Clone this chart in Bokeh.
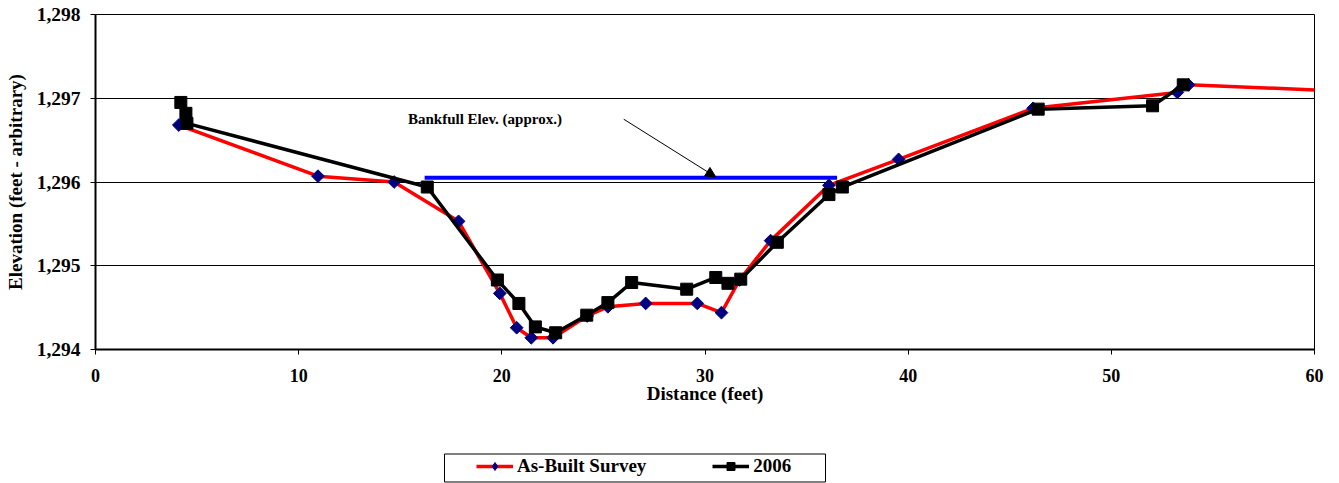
from bokeh.plotting import figure
from bokeh.layouts import column
from bokeh.models import (Range1d, FixedTicker, NumeralTickFormatter, Legend, LegendItem,
                          Arrow, NormalHead, Label, BoxAnnotation)
from bokeh.embed import file_html
from bokeh.resources import INLINE

# ---- data ----
asbuilt_x = [4.10, 10.95, 14.70, 17.87, 19.90, 20.73, 21.45, 22.52, 24.20, 25.22, 27.08,
             29.62, 30.81, 31.70, 33.23, 36.10, 39.53, 46.15, 53.25, 53.80, 61.5]
asbuilt_y = [1296.68, 1296.07, 1296.00, 1295.53, 1294.67, 1294.26, 1294.14, 1294.14, 1294.40,
             1294.51, 1294.55, 1294.55, 1294.44, 1294.83, 1295.30, 1295.96, 1296.27, 1296.88,
             1297.07, 1297.16, 1297.085]

y2006_x = [4.20, 4.45, 4.50, 16.33, 19.78, 20.84, 21.65, 22.65, 24.18, 25.22, 26.39, 29.10,
           30.53, 31.13, 31.76, 33.56, 36.10, 36.76, 46.40, 52.03, 53.54]
y2006_y = [1296.95, 1296.82, 1296.70, 1295.94, 1294.83, 1294.55, 1294.27, 1294.20, 1294.41,
           1294.56, 1294.80, 1294.72, 1294.86, 1294.79, 1294.84, 1295.28, 1295.85, 1295.94,
           1296.87, 1296.91, 1297.16]

bankfull_x = [16.2, 36.5]
bankfull_y = [1296.05, 1296.05]

arrow_start = (26.0, 1296.75)
arrow_end = (30.53, 1296.06)
annot_text = "Bankfull Elev. (approx.)"
annot_pos = (15.38, 1296.75)

series_names = ["As-Built Survey", "2006"]
x_ticks = [0, 10, 20, 30, 40, 50, 60]
y_ticks = [1294, 1295, 1296, 1297, 1298]

FONT = "Liberation Serif"
RED, NAVY, BLUE = "#FF0000", "#000080", "#0000FF"

p = figure(width=1339, height=451, output_backend="svg", toolbar_location=None,
           x_range=Range1d(0, 60), y_range=Range1d(1294, 1298),
           min_border_left=95, min_border_right=25, min_border_top=14, min_border_bottom=102)
p.title.visible = False
p.outline_line_color = "black"
p.outline_line_width = 1

for ax in (p.xaxis[0], p.yaxis[0]):
    ax.axis_line_color = "black"
    ax.axis_line_width = 2
    ax.major_tick_line_color = "black"
    ax.major_tick_line_width = 1
    ax.major_tick_out = 5
    ax.major_tick_in = 0
    ax.minor_tick_line_color = None
    ax.major_label_text_font = FONT
    ax.major_label_text_font_style = "bold"
    ax.major_label_text_color = "black"
    ax.axis_label_text_font = FONT
    ax.axis_label_text_font_style = "bold"
    ax.axis_label_text_color = "black"

p.xaxis.ticker = FixedTicker(ticks=x_ticks)
p.yaxis.ticker = FixedTicker(ticks=y_ticks)
p.yaxis.formatter = NumeralTickFormatter(format="0,0")
p.xaxis.major_label_text_font_size = "18px"
p.yaxis.major_label_text_font_size = "19.5px"
p.xaxis.axis_label = "Distance (feet)"
p.yaxis.axis_label = "Elevation (feet - arbitrary)"
p.xaxis.axis_label_text_font_size = "19px"
p.yaxis.axis_label_text_font_size = "19px"
p.xaxis.major_label_standoff = 14
p.yaxis.major_label_standoff = 10
p.xaxis.axis_label_standoff = -2
p.yaxis.axis_label_standoff = 8

p.xgrid.grid_line_color = None
p.ygrid.grid_line_color = "black"
p.ygrid.grid_line_width = 1

# series
p.line(asbuilt_x, asbuilt_y, line_color=RED, line_width=3.5)
p.scatter(asbuilt_x, asbuilt_y, marker="square", angle=0.785398, size=9,
          fill_color=NAVY, line_color=NAVY)
p.line(bankfull_x, bankfull_y, line_color=BLUE, line_width=4)
p.line(y2006_x, y2006_y, line_color="black", line_width=3.5)
p.scatter(y2006_x, y2006_y, marker="square", size=12, fill_color="black", line_color="black")

p.add_layout(Arrow(end=NormalHead(size=10, fill_color="black", line_color="black"),
                   x_start=arrow_start[0], y_start=arrow_start[1],
                   x_end=arrow_end[0], y_end=arrow_end[1], line_width=1, line_color="black"))
p.add_layout(Label(x=annot_pos[0], y=annot_pos[1], text=annot_text, text_font=FONT,
                   text_font_style="bold", text_font_size="15px", text_baseline="middle",
                   text_align="left", text_color="black"))

# ---- legend strip below the chart (same frame alignment as the chart) ----
lf = figure(width=1339, height=32, output_backend="svg", toolbar_location=None,
            x_range=Range1d(95, 1314), y_range=Range1d(0, 32),
            x_axis_type=None, y_axis_type=None,
            min_border_left=95, min_border_right=25, min_border_top=0, min_border_bottom=0)
lf.title.visible = False
lf.xgrid.grid_line_color = None
lf.ygrid.grid_line_color = None
lf.outline_line_color = None

# legend sample renderers: same series, but outside this strip's ranges (not drawn)
l1 = lf.line(asbuilt_x, asbuilt_y, line_color=RED, line_width=3.5)
s1 = lf.scatter(asbuilt_x, asbuilt_y, marker="diamond", size=9,
                fill_color=NAVY, line_color=NAVY)
l2 = lf.line(y2006_x, y2006_y, line_color="black", line_width=3.5)
s2 = lf.scatter(y2006_x, y2006_y, marker="square", size=12, fill_color="black", line_color="black")

lf.add_layout(BoxAnnotation(left=444, right=825, top=2.5, bottom=30.5,
                            left_units="canvas", right_units="canvas",
                            top_units="canvas", bottom_units="canvas",
                            fill_alpha=0, line_color="black", line_width=1, line_alpha=1))

legend = Legend(items=[LegendItem(label=series_names[0], renderers=[l1, s1]),
                       LegendItem(label=series_names[1], renderers=[l2, s2])],
                orientation="horizontal", location=(377, 2),
                padding=4, margin=0, spacing=66, glyph_width=37, glyph_height=20,
                label_standoff=4, label_height=20,
                label_text_font=FONT, label_text_font_style="bold",
                label_text_font_size="19px", label_text_color="black",
                border_line_alpha=0, background_fill_alpha=0)
lf.add_layout(legend, "center")

layout = column(p, lf, spacing=0)
open("out.html", "w").write(file_html(layout, INLINE))
